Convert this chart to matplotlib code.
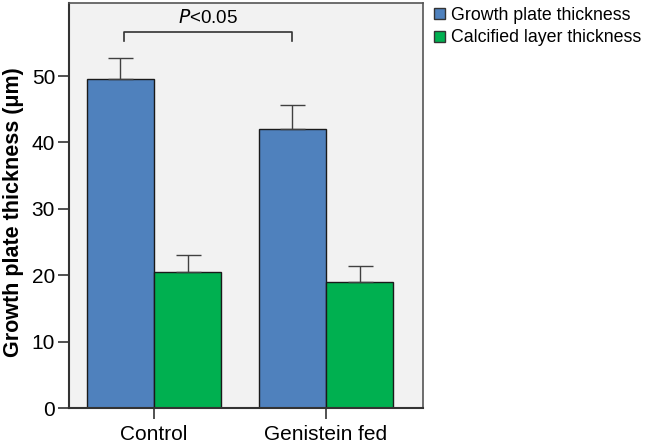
import numpy as np
import matplotlib.pyplot as plt
from matplotlib.patches import Patch

plt.rcParams['font.family'] = ['Liberation Sans', 'DejaVu Sans']

gruppen = ['Control', 'Genistein fed']
serien = ['Growth plate thickness', 'Calcified layer thickness']
werte_wachstum = [49.5, 42.0]
werte_kalk = [20.5, 19.0]
fehler_wachstum = [3.2, 3.6]
fehler_kalk = [2.6, 2.4]
farben = ['#4F81BD', '#00B050']

x = np.arange(len(gruppen))
b = 0.39

fig = plt.figure(figsize=(6.48, 4.45), dpi=100)
ax = fig.add_axes([69/648, 1-408/445, (423-69)/648, (408-3)/445])
ax.set_facecolor('#F2F2F2')

ax.bar(x - b/2, werte_wachstum, b, color=farben[0], edgecolor='#1a1a1a', lw=1.0,
       yerr=[np.zeros(2), fehler_wachstum], error_kw=dict(ecolor='#404040', elinewidth=1, capsize=9, capthick=1))
ax.bar(x + b/2, werte_kalk, b, color=farben[1], edgecolor='#1a1a1a', lw=1.0,
       yerr=[np.zeros(2), fehler_kalk], error_kw=dict(ecolor='#404040', elinewidth=1, capsize=9, capthick=1))

# Signifikanzklammer
y0, y1 = 55.3, 56.7
ax.plot([x[0]-b/2+0.02, x[0]-b/2+0.02, x[1]-b/2, x[1]-b/2], [y0, y1, y1, y0], color='#333333', lw=1.2)
ax.text((x[0]+x[1])/2 - b/2 + 0.01, 57.4, r'$\it{P}$<0.05', ha='center', va='bottom', fontsize=13.5)

ax.set_xlim(-0.494, 1.564)
ax.set_ylim(0, 61)
ax.set_yticks([0, 10, 20, 30, 40, 50])
ax.set_xticks(x)
ax.set_xticklabels(gruppen, fontsize=15)
ax.tick_params(axis='y', labelsize=15, length=8, width=1.2, color='#333333', pad=2)
ax.tick_params(axis='x', length=8, width=1.2, color='#333333', pad=4)
ax.set_ylabel('Growth plate thickness (μm)', fontsize=15.5, fontweight='bold')
ax.yaxis.set_label_coords(-0.128, 0.484)
for s in ['left', 'bottom']:
    ax.spines[s].set_linewidth(1.5)
    ax.spines[s].set_color('#333333')
for s in ['top', 'right']:
    ax.spines[s].set_linewidth(1.2)
    ax.spines[s].set_color('#555555')

handles = [Patch(facecolor=f, edgecolor='#333333', lw=1) for f in farben]
fig.legend(handles, serien, loc='upper left', bbox_to_anchor=(427/648, 1.0), frameon=False,
           fontsize=12.8, handlelength=0.6, handleheight=0.6, handletextpad=0.35, labelspacing=0.3,
           borderaxespad=0)

fig.savefig('out.png', dpi=100)
